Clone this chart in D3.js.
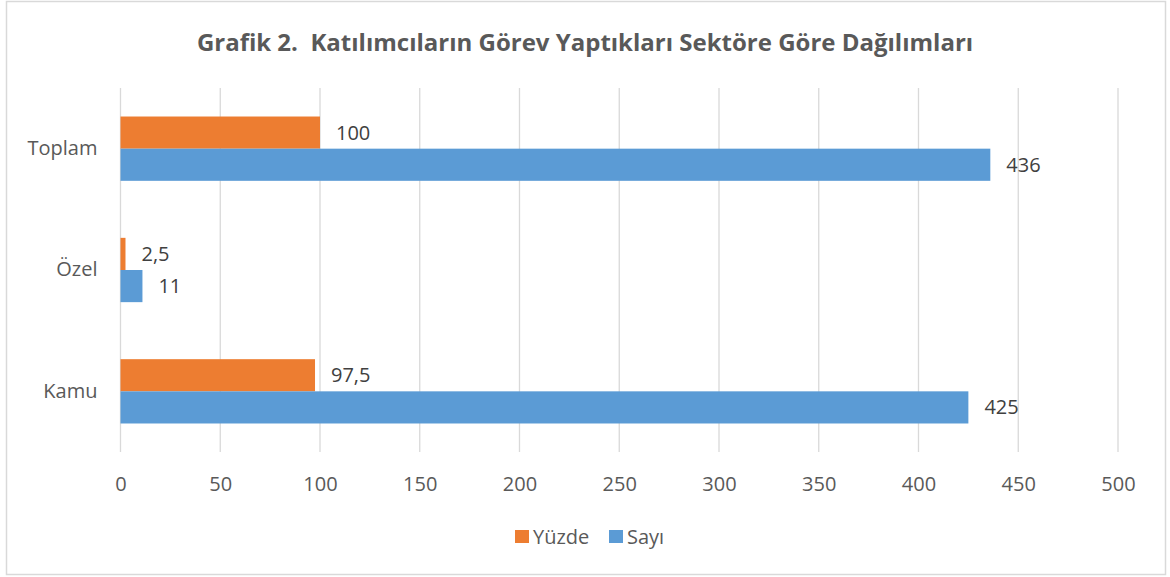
<!DOCTYPE html>
<html>
<head>
<meta charset="utf-8">
<script src="https://cdn.jsdelivr.net/npm/d3@7"></script>
<style>
  body { margin: 0; background: #fff; }
  svg text { font-family: "Open Sans", "Liberation Sans", sans-serif; }
</style>
</head>
<body>
<div id="chart"></div>
<script>
const categories = ["Toplam", "Özel", "Kamu"];
const seriesNames = ["Yüzde", "Sayı"];
const yuzde = [100, 2.5, 97.5];
const sayi = [436, 11, 425];
const xTicks = [0, 50, 100, 150, 200, 250, 300, 350, 400, 450, 500];
const colors = { "Yüzde": "#ed7d31", "Sayı": "#5b9bd5" };

const W = 1170, H = 577;
const M = { l: 120.5, r: 52, t: 88, b: 125 };
const FS = 20;
const svg = d3.select("#chart").append("svg").attr("width", W).attr("height", H);

svg.append("rect").attr("x", 6.5).attr("y", 1.5).attr("width", 1159).attr("height", 573)
    .attr("fill", "#fff").attr("stroke", "#d9d9d9").attr("stroke-width", 1.5);

svg.append("text").attr("x", 585).attr("y", 51).attr("text-anchor", "middle")
    .attr("font-size", 24).attr("font-weight", "bold").attr("fill", "#595959")
    .attr("xml:space", "preserve")
    .text("Grafik 2.  Katılımcıların Görev Yaptıkları Sektöre Göre Dağılımları");

const x = d3.scaleLinear().domain([0, 500]).range([M.l, 1118]);
const y = d3.scaleBand().domain(categories).range([M.t, H - M.b]).paddingInner(0.47).paddingOuter(0.235);
const ys = d3.scaleBand().domain(seriesNames).range([0, y.bandwidth()]);

// grid
svg.append("g").selectAll("line").data(xTicks).join("line")
    .attr("x1", d => x(d)).attr("x2", d => x(d)).attr("y1", M.t).attr("y2", H - M.b)
    .attr("stroke", "#d9d9d9").attr("stroke-width", 1.3);

// x axis labels
const xa = svg.append("g").attr("transform", `translate(0,${H - M.b})`)
    .call(d3.axisBottom(x).tickValues(xTicks).tickSize(0).tickPadding(25));
xa.select(".domain").remove();
xa.selectAll("text").attr("font-size", FS).attr("fill", "#595959");

// y axis labels
const ya = svg.append("g").attr("transform", `translate(${M.l},0)`)
    .call(d3.axisLeft(y).tickSize(0).tickPadding(23));
ya.select(".domain").remove();
ya.selectAll("text").attr("font-size", FS).attr("fill", "#595959");

const rows = categories.map((c, i) => ({ cat: c, vals: [{ s: "Yüzde", v: yuzde[i] }, { s: "Sayı", v: sayi[i] }] }));
const fmt = v => String(v).replace(".", ",");

const g = svg.append("g").selectAll("g").data(rows).join("g")
    .attr("transform", d => `translate(0,${y(d.cat)})`);
g.selectAll("rect").data(d => d.vals).join("rect")
    .attr("x", x(0)).attr("y", d => ys(d.s)).attr("width", d => x(d.v) - x(0))
    .attr("height", ys.bandwidth()).attr("fill", d => colors[d.s]);
g.selectAll("text").data(d => d.vals).join("text")
    .attr("x", d => x(d.v) + 16).attr("y", d => ys(d.s) + ys.bandwidth() / 2 + 7)
    .attr("font-size", FS).attr("fill", "#404040").text(d => fmt(d.v));

// legend
const lg = svg.append("g").attr("transform", "translate(0,537)");
const items = [{ s: "Yüzde", x: 515 }, { s: "Sayı", x: 609 }];
lg.selectAll("rect").data(items).join("rect")
    .attr("x", d => d.x).attr("y", -7).attr("width", 14).attr("height", 13).attr("fill", d => colors[d.s]);
lg.selectAll("text").data(items).join("text")
    .attr("x", d => d.x + 18).attr("y", 7).attr("font-size", FS).attr("fill", "#595959").text(d => d.s);
</script>
</body>
</html>
